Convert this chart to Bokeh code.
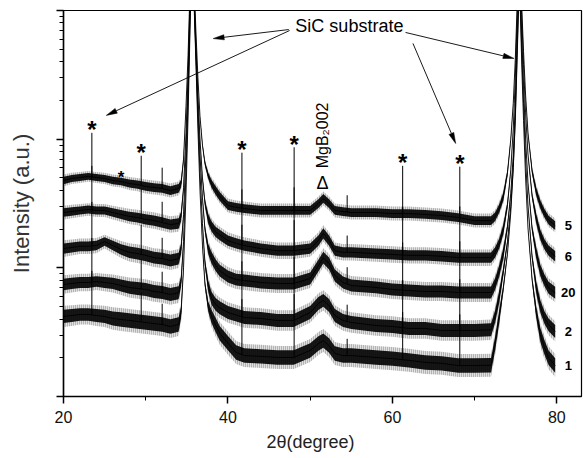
import numpy as np
from bokeh.plotting import figure
from bokeh.models import Range1d, SingleIntervalTicker, Title
from bokeh.core.properties import value
from bokeh.embed import file_html
from bokeh.resources import INLINE

# ---------------- data ----------------
X = [20, 21, 22, 23, 24, 25, 26, 27, 28, 29, 30, 31, 32, 33,
     34, 34.3, 34.6, 34.9, 35.15, 35.35, 35.6, 35.85, 36.1, 36.35, 36.6, 36.9, 37.2, 37.6, 38, 38.5, 39,
     40, 41, 42, 44, 46, 48, 50,
     51, 51.6, 52.3, 53, 54, 55,
     58, 60, 62, 64, 66, 68, 70,
     72, 72.5, 73, 73.5, 74, 74.4, 74.7, 74.95, 75.15, 75.45, 75.75, 75.95, 76.2, 76.5, 77, 77.5, 78, 78.5, 79, 79.8]

Y5 = [47.7, 49.5, 50.4, 51.3, 50.4, 49.5, 47.7, 46.9, 45.2, 44.4, 42.9, 42.1, 41.4, 39.9,
      41.4, 45, 70, 180, 450, 1200, 4000, 1800, 700, 300, 150, 90, 65, 52, 45, 40, 36,
      30.5, 29.5, 28.9, 27.9, 27.9, 27.9, 27.9,
      31.6, 34.6, 31.6, 27.9, 27.4, 26.9,
      26.9, 26.4, 26.4, 26.0, 25.5, 24.6, 23.3,
      23.3, 25, 29, 36, 55, 100, 190, 420, 1000, 3000, 1000, 480, 220, 110, 56, 39, 31, 26.5, 23.5, 21.3]

Y6 = [26.9, 27.4, 27.9, 28.4, 27.9, 27.9, 26.9, 26.0, 25.1, 24.6, 23.8, 23.3, 22.5, 21.7,
      22.1, 25, 42, 110, 320, 1000, 3500, 1600, 550, 220, 100, 50, 32, 24, 21, 19, 18,
      16.3, 15.5, 14.9, 14.1, 13.6, 13.6, 14.1,
      16.3, 18.5, 16.3, 13.6, 13.2, 13.2,
      12.9, 12.7, 12.5, 12.5, 12.3, 12.0, 12.0,
      12.0, 13.2, 15.5, 20, 31, 58, 120, 300, 800, 2600, 850, 380, 160, 75, 36, 24, 18, 15.2, 13.6, 12.3]

Y20 = [14.1, 14.4, 14.7, 14.7, 14.9, 16.0, 14.9, 13.9, 13.2, 12.9, 12.5, 12.0, 11.8, 11.4,
       11.8, 14, 26, 80, 260, 850, 3200, 1500, 500, 180, 75, 35, 20, 14, 12, 10.5, 9.5,
       8.56, 8.1, 7.97, 7.69, 7.56, 7.56, 8.26,
       10.4, 12.0, 10.8, 8.72, 7.69, 7.29,
       7.04, 6.79, 6.67, 6.55, 6.55, 6.43, 6.43,
       6.43, 7.5, 9.5, 13, 21, 38, 75, 190, 560, 2200, 600, 260, 100, 45, 20, 13, 9.5, 8, 7, 6.4]

Y2 = [7.42, 7.56, 7.69, 7.69, 7.83, 7.69, 7.56, 7.29, 7.04, 6.91, 6.79, 6.55, 6.43, 6.21,
      6.4, 7.8, 16, 55, 200, 700, 2800, 1400, 450, 150, 55, 22, 11, 7.2, 5.8, 5.2, 4.9,
      4.5, 4.3, 4.11, 4.04, 3.90, 3.90, 4.5,
      5.28, 5.58, 5.10, 4.26, 3.90, 3.76,
      3.56, 3.50, 3.38, 3.38, 3.26, 3.26, 3.26,
      3.3, 4.2, 6.0, 9.5, 16, 30, 60, 150, 430, 2000, 450, 190, 70, 30, 12, 7, 5, 4.1, 3.6, 3.2]

Y1 = [4.19, 4.26, 4.34, 4.34, 4.26, 4.19, 4.04, 3.97, 3.90, 3.83, 3.76, 3.69, 3.63, 3.50,
      3.63, 4.5, 10, 38, 150, 550, 2500, 1300, 400, 120, 40, 15, 7.5, 5, 4.2, 3.6, 3.1,
      2.6, 2.2, 2.08, 2.05, 2.01, 2.01, 2.28,
      2.58, 2.72, 2.49, 2.16, 2.08, 2.08,
      2.01, 1.97, 1.91, 1.84, 1.81, 1.74, 1.74,
      1.75, 2.6, 4.2, 7, 13, 27, 60, 140, 380, 1800, 350, 140, 50, 20, 8, 4.5, 3, 2.4, 2.0, 1.74]

TRACE_LABELS = ["5", "6", "20", "2", "1"]
TRACES = [Y5, Y6, Y20, Y2, Y1]

# sharp impurity reflections: position and height ratio over the baseline
SPIKE_X = [23.45, 29.45, 32.0, 41.7, 48.05, 54.5, 61.25, 68.2]
SPIKE_RATIO = [2.2, 1.7, 1.45, 2.7, 3.1, 1.35, 2.35, 2.5]
STARRED = [0, 1, 3, 4, 6, 7]

# annotation anchors (data coordinates)
SIC_TEXT = (48.2, 764)
ARROWS = [(47.4, 711, 38.2, 605),
          (47.5, 699, 25.2, 153),
          (61.6, 675, 74.8, 424),
          (62.5, 555, 67.7, 92.5)]
MGB2_X = 51.5
DELTA_Y = 46.0
MGB2_Y = 107.0
SMALL_STAR = (27.0, 50.4)

FONT = "Liberation Sans"

# ---------------- figure ----------------
W, H = 583, 458
BL, BR, BT, BB = 63, 2, 10, 62
XR = (20, 83)
YR = (1, 1000)

p = figure(width=W, height=H, x_range=Range1d(*XR), y_range=Range1d(*YR),
           y_axis_type="log", output_backend="svg", toolbar_location=None,
           min_border_left=BL, min_border_right=BR, min_border_top=BT, min_border_bottom=BB)
p.background_fill_color = "white"
p.border_fill_color = "white"
p.outline_line_color = "black"
p.outline_line_width = 1.2
p.xgrid.visible = False
p.ygrid.visible = False

xa = p.xaxis[0]
xa.ticker = SingleIntervalTicker(interval=20, num_minor_ticks=2)
xa.major_tick_out = 7
xa.major_tick_in = 0
xa.minor_tick_out = 4
xa.minor_tick_in = 0
xa.axis_line_width = 1.5
xa.major_tick_line_width = 1.5
xa.major_label_text_font = FONT
xa.major_label_text_font_size = "16px"
xa.major_label_text_color = "#111111"
xa.major_label_standoff = 7

ya = p.yaxis[0]
ya.major_tick_out = 7
ya.major_tick_in = 0
ya.minor_tick_out = 4
ya.minor_tick_in = 0
ya.axis_line_width = 1.5
ya.major_tick_line_width = 1.5
ya.major_label_overrides = {1: " ", 10: " ", 100: " ", 1000: " "}
ya.major_label_text_font_size = "4px"
ya.major_label_standoff = 0
ya.axis_label = "Intensity (a.u.)"
ya.axis_label_text_font = FONT
ya.axis_label_text_font_size = "22px"
ya.axis_label_text_font_style = "normal"
ya.axis_label_text_color = "#333333"
ya.axis_label_standoff = 18

# x-axis title, centred on the 20-80 span as in the original
p.add_layout(Title(text="2θ(degree)", align="left", offset=203, standoff=8,
                   text_font=FONT, text_font_size="18px", text_font_style="normal",
                   text_color="#222222"), "below")

xarr = np.array(X, dtype=float)
noise_core = [0.034, 0.040, 0.046, 0.050, 0.056]
for k, yv in enumerate(TRACES):
    yv = np.array(yv, dtype=float)
    ref = np.median(yv)
    scale = np.minimum(1.0, (ref / yv) ** 1.5)
    h = noise_core[k] * scale
    # fuzzy noise fringe and dense noise core
    p.varea(x=xarr, y1=yv / 10 ** (1.6 * h), y2=yv * 10 ** (1.6 * h),
            fill_color="black", fill_alpha=0.12,
            hatch_pattern="vertical_line", hatch_color="black", hatch_alpha=0.5,
            hatch_scale=2, hatch_weight=0.8)
    p.varea(x=xarr, y1=yv / 10 ** h, y2=yv * 10 ** h, fill_color="black", fill_alpha=0.9)
    p.line(xarr, yv, line_color="black", line_width=0.9)
    base = np.interp(SPIKE_X, xarr, yv)
    top = base * np.array(SPIKE_RATIO)
    p.segment(x0=SPIKE_X, y0=base, x1=SPIKE_X, y1=top, line_color="black", line_width=1)
    if k == 0:
        sx = [SPIKE_X[i] for i in STARRED]
        sy = [top[i] * 1.06 for i in STARRED]
        p.text(x=sx, y=sy, text=["*"] * len(sx), text_font=value(FONT),
               text_font_size="24px", text_font_style="bold", text_align="center",
               text_baseline="alphabetic", text_color="black")
    p.text(x=[81.4], y=[yv[-1]], text=[TRACE_LABELS[k]], text_font=value(FONT),
           text_font_size="13px", text_font_style="bold", text_align="center",
           text_baseline="middle", text_color="black")

p.text(x=[SMALL_STAR[0]], y=[SMALL_STAR[1]], text=["*"], text_font=value(FONT),
       text_font_size="17px", text_font_style="bold", text_align="center",
       text_baseline="middle", text_color="black")

p.text(x=[SIC_TEXT[0]], y=[SIC_TEXT[1]], text=["SiC substrate"], text_font=value(FONT),
       text_font_size="18px", text_align="left", text_baseline="middle", text_color="black")

# arrows: shaft + slender filled head, head shape defined in screen pixels
px_x = (W - BL - BR) / (XR[1] - XR[0])
px_dec = (H - BT - BB) / (np.log10(YR[1]) - np.log10(YR[0]))
HEAD_L, HEAD_W = 11.0, 2.6
shaft_x0, shaft_y0, shaft_x1, shaft_y1, head_xs, head_ys = [], [], [], [], [], []
for (x0, y0, x1, y1) in ARROWS:
    dx = (x1 - x0) * px_x
    dy = (np.log10(y1) - np.log10(y0)) * px_dec
    L = np.hypot(dx, dy)
    ux, uy = dx / L, dy / L
    bx, by = -HEAD_L * ux, -HEAD_L * uy
    pts = [(0.0, 0.0), (bx - HEAD_W * uy, by + HEAD_W * ux), (bx + HEAD_W * uy, by - HEAD_W * ux)]
    head_xs.append([x1 + a / px_x for a, b in pts])
    head_ys.append([y1 * 10 ** (b / px_dec) for a, b in pts])
    shaft_x0.append(x0)
    shaft_y0.append(y0)
    shaft_x1.append(x1 + bx / px_x)
    shaft_y1.append(y1 * 10 ** (by / px_dec))
p.segment(x0=shaft_x0, y0=shaft_y0, x1=shaft_x1, y1=shaft_y1, line_color="black", line_width=0.9)
p.patches(xs=head_xs, ys=head_ys, fill_color="black", line_color="black", line_width=0.5)

p.text(x=[MGB2_X], y=[DELTA_Y], text=["Δ"], text_font=value(FONT), text_font_size="18px",
       text_align="center", text_baseline="middle", text_color="black")
p.text(x=[MGB2_X], y=[MGB2_Y], text=["MgB₂002"], text_font=value(FONT), text_font_size="16px",
       text_align="center", text_baseline="middle", angle=np.pi / 2, text_color="black")

open("out.html", "w").write(file_html(p, INLINE))
